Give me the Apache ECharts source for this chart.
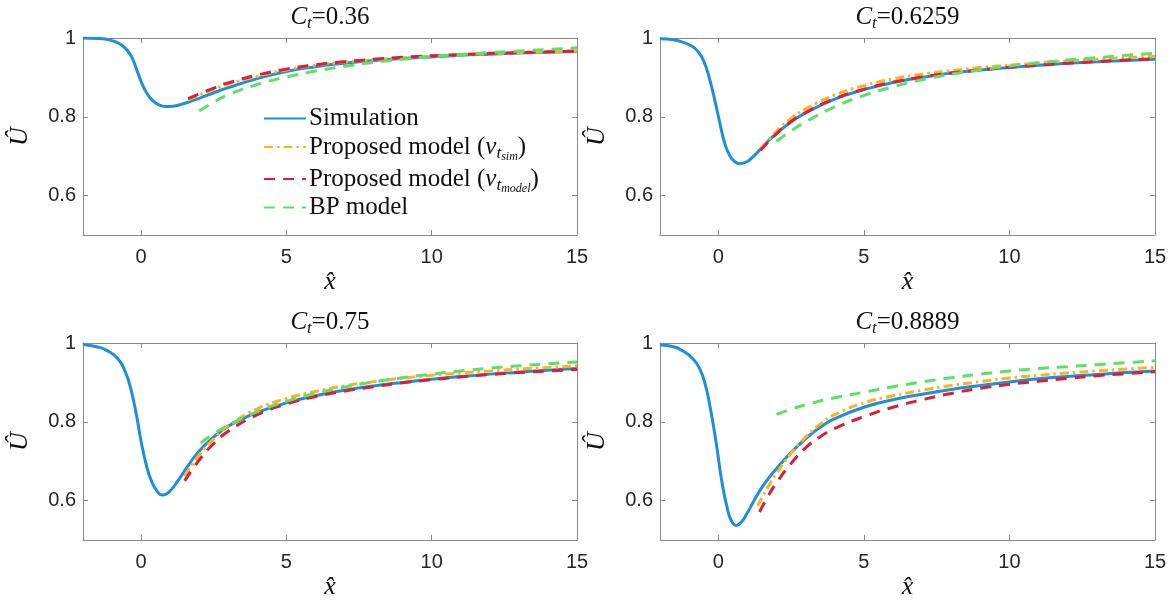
<!DOCTYPE html>
<html><head><meta charset="utf-8">
<script src="https://cdn.jsdelivr.net/npm/echarts@6/dist/echarts.min.js"></script>
<style>html,body{margin:0;padding:0;background:#fff}#c{width:1175px;height:602px}</style>
</head><body><div id="c"></div>
<script>
// ---- data ----
const ctLabels = ['0.36', '0.6259', '0.75', '0.8889'];
const xTicks = [0, 5, 10, 15];
const yTicks = [0.6, 0.8, 1];
const seriesNames = ['Simulation', 'Proposed model (sim)', 'Proposed model (model)', 'BP model'];

const sim036 = [[-2,1.0],[-1.5,0.999],[-1.2,0.997],[-0.9,0.991],[-0.65,0.981],[-0.45,0.966],[-0.3,0.948],[-0.1,0.909],[0.1,0.873],[0.3,0.849],[0.5,0.835],[0.7,0.828],[0.85,0.826],[1.1,0.827],[1.4,0.832],[1.7,0.839],[2,0.847],[2.5,0.861],[3,0.874],[4,0.897],[5,0.915],[6,0.927],[7,0.936],[8,0.943],[9,0.948],[10,0.952],[11,0.956],[12,0.959],[13,0.962],[14,0.964],[15,0.966]];
const pSim036 = [[1.62,0.843],[2,0.855],[2.5,0.870],[3,0.883],[4,0.903],[5,0.919],[6,0.931],[7,0.939],[8,0.945],[9,0.950],[10,0.954],[11,0.957],[12,0.960],[13,0.963],[14,0.965],[15,0.967]];
const pMod036 = [[1.62,0.846],[2,0.858],[2.5,0.873],[3,0.886],[4,0.906],[5,0.921],[6,0.932],[7,0.940],[8,0.946],[9,0.951],[10,0.955],[11,0.958],[12,0.961],[13,0.963],[14,0.965],[15,0.967]];
const bp036 = [[2,0.815],[2.5,0.837],[3,0.856],[4,0.882],[5,0.901],[6,0.916],[7,0.928],[8,0.938],[9,0.946],[10,0.953],[11,0.958],[12,0.963],[13,0.967],[14,0.971],[15,0.975]];

const sim0626 = [[-2,0.998],[-1.5,0.995],[-1.2,0.989],[-0.9,0.979],[-0.7,0.966],[-0.5,0.942],[-0.3,0.897],[-0.1,0.836],[0.05,0.786],[0.23,0.731],[0.4,0.701],[0.57,0.686],[0.75,0.681],[0.98,0.686],[1.2,0.699],[1.45,0.718],[1.75,0.741],[2,0.758],[2.5,0.787],[3,0.81],[4,0.845],[5,0.869],[6,0.887],[7,0.9],[8,0.911],[9,0.919],[10,0.925],[11,0.931],[12,0.936],[13,0.94],[14,0.943],[15,0.946]];
const pSim0626 = [[1.45,0.718],[2,0.763],[2.5,0.796],[3,0.82],[4,0.855],[5,0.879],[6,0.896],[7,0.908],[8,0.917],[9,0.925],[10,0.931],[11,0.937],[12,0.942],[13,0.946],[14,0.95],[15,0.953]];
const pMod0626 = [[1.45,0.715],[2,0.757],[2.5,0.788],[3,0.811],[4,0.846],[5,0.87],[6,0.888],[7,0.901],[8,0.911],[9,0.919],[10,0.926],[11,0.931],[12,0.936],[13,0.94],[14,0.944],[15,0.947]];
const bp0626 = [[2,0.738],[2.5,0.764],[3,0.787],[4,0.825],[5,0.854],[6,0.876],[7,0.894],[8,0.908],[9,0.919],[10,0.929],[11,0.937],[12,0.944],[13,0.95],[14,0.956],[15,0.961]];

const sim075 = [[-2,0.996],[-1.5,0.99],[-1.2,0.982],[-0.8,0.96],[-0.55,0.928],[-0.35,0.882],[-0.15,0.813],[0,0.75],[0.2,0.684],[0.37,0.647],[0.55,0.624],[0.72,0.614],[0.95,0.621],[1.3,0.654],[1.6,0.687],[2,0.726],[2.5,0.762],[3,0.789],[3.5,0.808],[4,0.824],[5,0.848],[6,0.866],[7,0.88],[8,0.891],[9,0.9],[10,0.908],[11,0.915],[12,0.921],[13,0.926],[14,0.931],[15,0.935]];
const pSim075 = [[1.5,0.662],[2,0.716],[2.5,0.757],[3,0.79],[4,0.833],[5,0.859],[6,0.877],[7,0.891],[8,0.902],[9,0.911],[10,0.918],[11,0.924],[12,0.929],[13,0.934],[14,0.938],[15,0.942]];
const pMod075 = [[1.5,0.65],[2,0.703],[2.5,0.745],[3,0.776],[4,0.818],[5,0.845],[6,0.864],[7,0.878],[8,0.889],[9,0.899],[10,0.907],[11,0.914],[12,0.92],[13,0.925],[14,0.929],[15,0.933]];
const bp075 = [[2.05,0.746],[2.5,0.77],[3,0.791],[4,0.826],[5,0.852],[6,0.872],[7,0.888],[8,0.901],[9,0.912],[10,0.921],[11,0.929],[12,0.936],[13,0.942],[14,0.947],[15,0.952]];

const sim0889 = [[-2,0.995],[-1.5,0.99],[-1.2,0.979],[-0.9,0.962],[-0.65,0.937],[-0.45,0.896],[-0.25,0.826],[-0.05,0.736],[0.12,0.65],[0.3,0.584],[0.45,0.549],[0.62,0.537],[0.8,0.546],[1.0,0.569],[1.2,0.596],[1.45,0.628],[1.75,0.659],[2,0.681],[2.5,0.722],[3,0.757],[3.5,0.786],[4,0.808],[5,0.837],[6,0.856],[7,0.87],[8,0.882],[9,0.892],[10,0.901],[11,0.909],[12,0.915],[13,0.92],[14,0.925],[15,0.929]];
const pSim0889 = [[1.35,0.587],[1.7,0.633],[2,0.669],[2.5,0.72],[3,0.761],[3.5,0.794],[4,0.818],[5,0.848],[6,0.866],[7,0.88],[8,0.892],[9,0.902],[10,0.911],[11,0.918],[12,0.924],[13,0.929],[14,0.934],[15,0.938]];
const pMod0889 = [[1.42,0.571],[1.7,0.61],[2,0.645],[2.5,0.694],[3,0.734],[3.5,0.762],[4,0.783],[5,0.813],[6,0.837],[7,0.856],[8,0.872],[9,0.885],[10,0.895],[11,0.903],[12,0.91],[13,0.917],[14,0.922],[15,0.927]];
const bp0889 = [[2,0.819],[2.5,0.832],[3,0.843],[4,0.861],[5,0.875],[6,0.889],[7,0.901],[8,0.912],[9,0.921],[10,0.929],[11,0.935],[12,0.94],[13,0.945],[14,0.95],[15,0.955]];

const panelData = [
  [sim036, pSim036, pMod036, bp036],
  [sim0626, pSim0626, pMod0626, bp0626],
  [sim075, pSim075, pMod075, bp075],
  [sim0889, pSim0889, pMod0889, bp0889]
];

// ---- styling ----
const SERIF = '"Liberation Serif", "Times New Roman", serif';
const SANS = '"Liberation Sans", Arial, sans-serif';
const colors = ['#1E8FDD', '#FFB21E', '#DC1E3C', '#5EE068'];
const dashTypes = ['solid', [9, 4, 2.5, 4], [11, 8], [11, 8]];
const axisColor = '#8a8a8a';
const labelColor = '#262626';

const grids = [
  {left: 83, top: 38, width: 494, height: 197},
  {left: 660, top: 38, width: 495, height: 197},
  {left: 83, top: 343, width: 494, height: 197},
  {left: 660, top: 343, width: 495, height: 197}
];

const richMath = {
  n: {fontFamily: SERIF, fontSize: 25, color: '#111', lineHeight: 30},
  i: {fontFamily: SERIF, fontSize: 25, fontStyle: 'italic', color: '#111', lineHeight: 30},
  t: {fontFamily: SERIF, fontSize: 17, fontStyle: 'italic', color: '#111', lineHeight: 16, padding: [14, 0, 0, 0]},
  s: {fontFamily: SERIF, fontSize: 12, fontStyle: 'italic', color: '#111', lineHeight: 10, padding: [20, 0, 0, 0]}
};

const xAxes = [], yAxes = [], series = [];
grids.forEach((g, p) => {
  xAxes.push({
    type: 'value', gridIndex: p, min: -2, max: 15, position: 'bottom',
    name: 'x\u0302', nameLocation: 'middle', nameGap: 34,
    nameTextStyle: {fontFamily: SERIF, fontStyle: 'italic', fontSize: 26, color: '#111'},
    axisLine: {show: true, onZero: false, lineStyle: {color: axisColor, width: 1}},
    axisTick: {show: true, inside: true, length: 5, customValues: xTicks, lineStyle: {color: axisColor}},
    axisLabel: {show: true, customValues: xTicks, margin: 12, fontFamily: SANS, fontSize: 20, color: labelColor},
    splitLine: {show: false}
  });
  xAxes.push({
    type: 'value', gridIndex: p, min: -2, max: 15, position: 'top',
    name: '{i|C}{t|t}{n|=' + ctLabels[p] + '}', nameLocation: 'middle', nameGap: 6,
    nameTextStyle: {rich: richMath},
    axisLine: {show: true, onZero: false, lineStyle: {color: axisColor, width: 1}},
    axisTick: {show: true, inside: true, length: 5, customValues: xTicks, lineStyle: {color: axisColor}},
    axisLabel: {show: false},
    splitLine: {show: false}
  });
  yAxes.push({
    type: 'value', gridIndex: p, min: 0.5, max: 1, position: 'left',
    name: '\u00DB', nameLocation: 'middle', nameGap: 50, nameRotate: 90,
    nameTextStyle: {fontFamily: SERIF, fontStyle: 'italic', fontSize: 26, color: '#111'},
    axisLine: {show: true, onZero: false, lineStyle: {color: axisColor, width: 1}},
    axisTick: {show: true, inside: true, length: 5, customValues: yTicks, lineStyle: {color: axisColor}},
    axisLabel: {show: true, customValues: yTicks, margin: 7, fontFamily: SANS, fontSize: 20, color: labelColor,
      formatter: v => String(Math.round(v * 10) / 10)},
    splitLine: {show: false}
  });
  yAxes.push({
    type: 'value', gridIndex: p, min: 0.5, max: 1, position: 'right',
    axisLine: {show: true, onZero: false, lineStyle: {color: axisColor, width: 1}},
    axisTick: {show: true, inside: true, length: 5, customValues: yTicks, lineStyle: {color: axisColor}},
    axisLabel: {show: false},
    splitLine: {show: false}
  });
  panelData[p].forEach((d, k) => {
    series.push({
      type: 'line', name: seriesNames[k], data: d,
      xAxisIndex: 2 * p, yAxisIndex: 2 * p,
      showSymbol: false, symbol: 'none', smooth: 0.5,
      lineStyle: {color: colors[k], width: 3, type: dashTypes[k]},
      itemStyle: {color: colors[k]},
      z: 2 + k, silent: true, animation: false
    });
  });
});

const legendLabels = {
  'Simulation': '{n|Simulation}',
  'Proposed model (sim)': '{n|Proposed model (}{i|\u03BD}{t|t}{s|sim}{n|)}',
  'Proposed model (model)': '{n|Proposed model (}{i|\u03BD}{t|t}{s|model}{n|)}',
  'BP model': '{n|BP model}'
};

const option = {
  animation: false,
  backgroundColor: '#fff',
  grid: grids.map(g => Object.assign({containLabel: false}, g)),
  xAxis: xAxes,
  yAxis: yAxes,
  legend: {
    data: seriesNames, orient: 'vertical', left: 258, top: 101,
    itemWidth: 42, itemHeight: 14, itemGap: 0, selectedMode: false,
    itemStyle: {color: 'rgba(0,0,0,0)', borderWidth: 0, opacity: 0},
    formatter: name => legendLabels[name],
    textStyle: {rich: richMath, padding: [0, 0, 0, -2]}
  },
  series: series
};

const chart = echarts.init(document.getElementById('c'), null, {renderer: 'canvas'});
chart.setOption(option);
</script></body></html>
